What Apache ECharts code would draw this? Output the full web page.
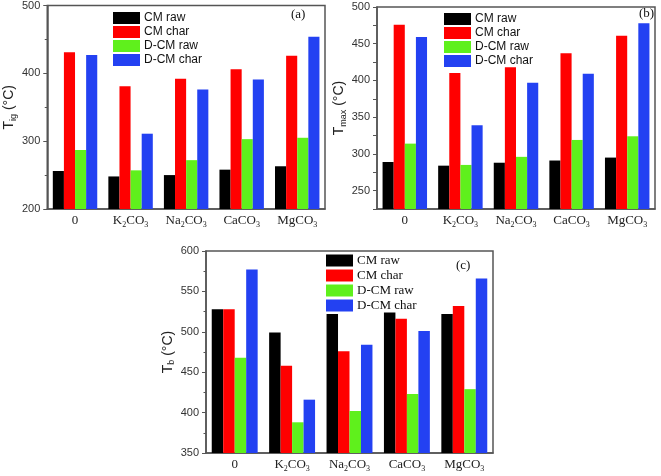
<!DOCTYPE html>
<html><head><meta charset="utf-8">
<script src="https://cdn.jsdelivr.net/npm/echarts@6/dist/echarts.min.js"></script>
<style>html,body{margin:0;padding:0;background:#fff}#c{width:661px;height:476px}</style>
</head><body><div id="c"></div>
<script>
var categories = ['0', 'K2CO3', 'Na2CO3', 'CaCO3', 'MgCO3'];
var seriesNames = ['CM raw', 'CM char', 'D-CM raw', 'D-CM char'];

var a_cmRaw   = [256, 248, 250, 258, 263];
var a_cmChar  = [431, 381, 392, 406, 426];
var a_dcmRaw  = [287, 257, 272, 303, 305];
var a_dcmChar = [427, 311, 376, 391, 454];

var b_cmRaw   = [289, 284, 288, 291, 295];
var b_cmChar  = [476, 410, 418, 437, 461];
var b_dcmRaw  = [314, 285, 296, 319, 324];
var b_dcmChar = [459, 339, 397, 409, 478];

var c_cmRaw   = [528, 499, 522, 524, 522];
var c_cmChar  = [528, 458, 476, 516, 532];
var c_dcmRaw  = [468, 388, 402, 423, 429];
var c_dcmChar = [577, 416, 484, 501, 566];

var colors = ['#000000', '#ff0000', '#5ff01c', '#2341f2'];
var AXC = '#555';
var SERIF = '"Liberation Serif","Times New Roman",serif';
var SANS = '"Liberation Sans",Arial,sans-serif';

function catLabel(v) {
  if (v === '0') return '{n|0}';
  var m = v.match(/^([A-Za-z]+)2CO3$/);
  if (m) return '{n|' + m[1] + '}{s|2}{n|CO}{s|3}';
  return '{n|' + v.replace('CO3', 'CO') + '}{s|3}';
}
var catRich = {
  n: { fontFamily: SERIF, fontSize: 13, color: '#222', lineHeight: 14 },
  s: { fontFamily: SERIF, fontSize: 8, color: '#222', lineHeight: 8, padding: [8, 0, 0, 0] }
};

var grids = [
  { left: 42, top: 5, width: 283, height: 204 },
  { left: 377, top: 7, width: 278, height: 202 },
  { left: 206, top: 251, width: 287, height: 202 }
];

function xAx(i) {
  return {
    type: 'category', gridIndex: i, data: categories,
    axisLine: { lineStyle: { color: AXC, width: 1.5 } },
    axisTick: { alignWithLabel: true, length: 4, lineStyle: { color: AXC } },
    axisLabel: { formatter: catLabel, rich: catRich, margin: 5, interval: 0, hideOverlap: false }
  };
}
function yName(sub) {
  return '{t|T}{s|' + sub + '}{t| (°C)}';
}
var nameRich = {
  t: { fontFamily: SANS, fontSize: 14, color: '#222', lineHeight: 16 },
  s: { fontFamily: SANS, fontSize: 9, color: '#222', lineHeight: 9, padding: [8, 0, 0, 0] }
};
function yAx(i, min, max, interval, sub, gap, labelEvery) {
  return {
    type: 'value', gridIndex: i, min: min, max: max, interval: interval,
    name: yName(sub), nameLocation: 'middle', nameGap: gap, nameRotate: 90,
    nameTextStyle: { rich: nameRich },
    axisLine: { show: true, lineStyle: { color: AXC, width: 1.5 } },
    axisTick: { show: true, length: 4, lineStyle: { color: AXC } },
    minorTick: { show: labelEvery == null, splitNumber: 2, length: 2.5, lineStyle: { color: AXC } },
    splitLine: { show: false },
    axisLabel: {
      fontFamily: SANS, fontSize: 11, color: '#333', margin: 7,
      formatter: function (v) { return (labelEvery && v % labelEvery !== 0) ? '' : String(v); }
    }
  };
}

var data = [
  [a_cmRaw, a_cmChar, a_dcmRaw, a_dcmChar],
  [b_cmRaw, b_cmChar, b_dcmRaw, b_dcmChar],
  [c_cmRaw, c_cmChar, c_dcmRaw, c_dcmChar]
];
var series = [];
for (var g = 0; g < 3; g++) {
  for (var k = 0; k < 4; k++) {
    series.push({
      type: 'bar', name: seriesNames[k], xAxisIndex: g, yAxisIndex: g,
      data: data[g][k], barGap: '0%', barCategoryGap: '20%',
      itemStyle: { color: colors[k] }
    });
  }
}

function legend(left, top, font, size) {
  return {
    orient: 'vertical', left: left, top: top, data: seriesNames,
    icon: 'rect', itemWidth: 27, itemHeight: 12, itemGap: 2, padding: 0,
    selectedMode: false,
    textStyle: { fontFamily: font, fontSize: size, color: '#111', padding: [0, 0, 0, -1] }
  };
}

var chart = echarts.init(document.getElementById('c'), null, { renderer: 'canvas' });
chart.setOption({
  animation: false,
  backgroundColor: '#fff',
  grid: grids.map(function (g) {
    return Object.assign({ show: true, borderColor: AXC, borderWidth: 1.5, backgroundColor: 'transparent' }, g);
  }),
  xAxis: [xAx(0), xAx(1), xAx(2)],
  yAxis: [
    yAx(0, 200, 500, 100, 'ig', 24, null),
    yAx(1, 225, 500, 25, 'max', 28, 50),
    yAx(2, 350, 600, 50, 'b', 30, null)
  ],
  legend: [
    legend(113, 12, SANS, 12),
    legend(444, 13, SANS, 12),
    legend(326, 254, SERIF, 13)
  ],
  graphic: [
    { type: 'text', left: 291, top: 8, style: { text: '(a)', font: '13px ' + SERIF, fill: '#111' } },
    { type: 'text', left: 639, top: 7, style: { text: '(b)', font: '13px ' + SERIF, fill: '#111' } },
    { type: 'text', left: 456, top: 259, style: { text: '(c)', font: '13px ' + SERIF, fill: '#111' } }
  ],
  series: series
});
</script></body></html>
